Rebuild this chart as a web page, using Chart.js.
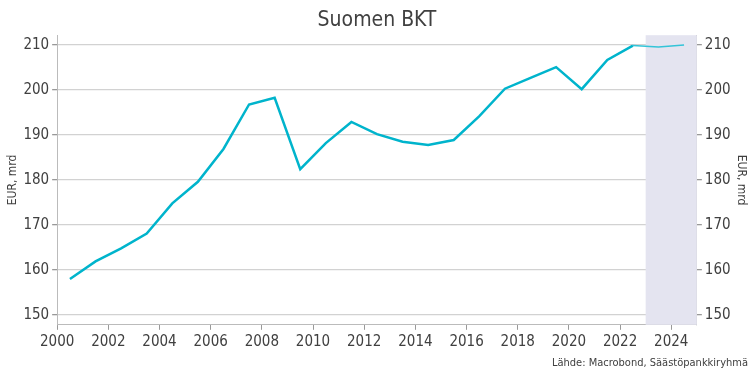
<!DOCTYPE html>
<html>
<head>
<meta charset="utf-8">
<script src="https://cdn.jsdelivr.net/npm/chart.js@4"></script>
<style>
  html, body { margin: 0; padding: 0; background: #fff; }
  #wrap { width: 754px; height: 377px; }
</style>
</head>
<body>
<div id="wrap"><canvas id="chart"></canvas></div>
<script>
// Vuodet (puolivälissä vuotta) ja BKT, mrd EUR
const years = [2000.5, 2001.5, 2002.5, 2003.5, 2004.5, 2005.5, 2006.5, 2007.5, 2008.5, 2009.5,
               2010.5, 2011.5, 2012.5, 2013.5, 2014.5, 2015.5, 2016.5, 2017.5, 2018.5, 2019.5,
               2020.5, 2021.5, 2022.5, 2023.5, 2024.5];
const gdp = [158.0, 161.9, 164.8, 168.1, 174.8, 179.6, 186.9, 196.8, 198.3, 182.4,
             188.2, 192.9, 190.2, 188.5, 187.8, 188.9, 194.2, 200.3, 202.7, 205.1,
             200.2, 206.7, 209.9, 209.6, 210.0];
const yTicks = [150, 160, 170, 180, 190, 200, 210];
const forecastStart = 2023;
const forecastEnd = 2025;

const FONT = '"Liberation Sans Narrow", "DejaVu Sans Condensed", sans-serif';
const TEXT = '#404040';

// ennusteen varjostus
const forecastShade = {
    id: 'forecastShade',
    beforeDatasetsDraw(chart) {
        const { ctx, chartArea, scales } = chart;
        const x0 = scales.x.getPixelForValue(forecastStart);
        const x1 = scales.x.getPixelForValue(forecastEnd);
        ctx.save();
        ctx.fillStyle = '#e4e4f0';
        ctx.fillRect(x0, chartArea.top, x1 - x0, chartArea.bottom - chartArea.top);
        ctx.restore();
    }
};

const yAxis = (position) => ({
    type: 'linear',
    position: position,
    min: 147.8,
    max: 212.2,
    afterBuildTicks: (axis) => { axis.ticks = yTicks.map(v => ({ value: v })); },
    ticks: {
        color: TEXT,
        font: { family: FONT, size: 15 },
        padding: 3
    },
    grid: {
        display: true,
        drawOnChartArea: position === 'left',
        color: '#d2d2d2',
        lineWidth: 1.3,
        tickLength: 5,
        tickColor: '#999'
    },
    border: { display: true, color: '#bbb' },
    title: {
        display: true,
        text: 'EUR, mrd',
        color: TEXT,
        font: { family: FONT, size: 12 },
        padding: { top: 0, bottom: 0 }
    }
});

new Chart(document.getElementById('chart'), {
    type: 'line',
    data: {
        datasets: [{
            data: years.map((y, i) => ({ x: y, y: gdp[i] })),
            borderColor: '#00b4cc',
            borderWidth: 2.5,
            pointRadius: 0,
            tension: 0,
            segment: {
                borderWidth: ctx => ctx.p0.parsed.x >= forecastStart - 0.5 ? 1.5 : 2.5,
                borderColor: ctx => ctx.p0.parsed.x >= forecastStart - 0.5 ? '#33c4d8' : '#00b4cc'
            }
        }]
    },
    options: {
        responsive: true,
        maintainAspectRatio: false,
        animation: false,
        layout: { padding: { left: 6, right: 6, top: 6, bottom: 0 } },
        scales: {
            x: {
                type: 'linear',
                min: 2000,
                max: 2025,
                ticks: {
                    stepSize: 2,
                    includeBounds: false,
                    color: TEXT,
                    font: { family: FONT, size: 15 },
                    padding: 3,
                    maxRotation: 0,
                    callback: v => String(v)
                },
                grid: {
                    drawOnChartArea: false,
                    tickLength: 5,
                    tickColor: '#999'
                },
                border: { display: true, color: '#bbb' }
            },
            y: yAxis('left'),
            y2: yAxis('right')
        },
        plugins: {
            legend: { display: false },
            tooltip: { enabled: false },
            title: {
                display: true,
                text: 'Suomen BKT',
                color: TEXT,
                font: { family: FONT, size: 21, weight: 'normal' },
                padding: { top: 2, bottom: 2 }
            },
            subtitle: {
                display: true,
                position: 'bottom',
                align: 'end',
                text: 'Lähde: Macrobond, Säästöpankkiryhmä',
                color: TEXT,
                font: { family: FONT, size: 11 },
                padding: { top: 3, bottom: 7 }
            }
        }
    },
    plugins: [forecastShade]
});
</script>
</body>
</html>
